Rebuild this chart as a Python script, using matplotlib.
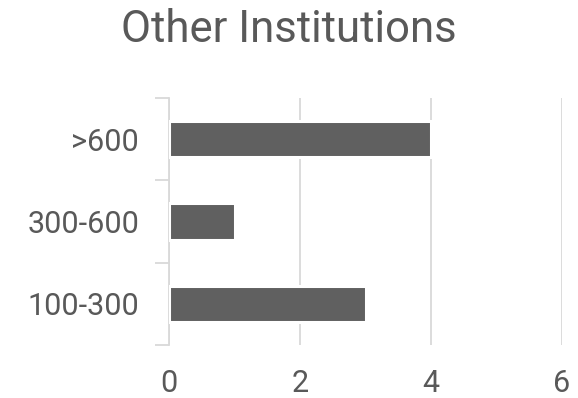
import numpy as np
import matplotlib.pyplot as plt
from matplotlib.ticker import FixedLocator

# Counts per size band
categories = ["100-300", "300-600", ">600"]
counts = [3, 1, 4]
x_ticks = [0, 2, 4, 6]

text_color = "#595959"
grid_color = "#d9d9d9"
bar_color = "#606060"

plt.rcParams['font.family'] = ['Roboto', 'DejaVu Sans']

fig = plt.figure(figsize=(5.78, 3.98), dpi=100)
ax = fig.add_axes([169 / 578, 1 - 345 / 398, (562 - 169) / 578, (345 - 98) / 398])

y = np.arange(len(categories))
ax.barh(y, counts, height=0.44, color=bar_color, edgecolor="white", linewidth=2.2, zorder=3)

ax.set_xlim(0, 6)
ax.set_ylim(-0.5, len(categories) - 0.5)
ax.set_xticks(x_ticks)
ax.set_yticks(y)
ax.set_yticklabels(categories)

# category boundary ticks on the left spine
ax.yaxis.set_minor_locator(FixedLocator(np.arange(-0.5, len(categories), 1.0)))
ax.tick_params(axis="y", which="major", length=0, pad=21.5, labelsize=22, labelcolor=text_color)
ax.tick_params(axis="y", which="minor", length=10, width=1.3, color=grid_color)
ax.tick_params(axis="x", length=0, pad=17, labelsize=22, labelcolor=text_color)

ax.grid(axis="x", color=grid_color, linewidth=1.3, zorder=0)
for s in ["top", "right", "bottom"]:
    ax.spines[s].set_visible(False)
ax.spines["left"].set_color(grid_color)
ax.spines["left"].set_linewidth(1.3)

fig.text(0.5, 1 - 30 / 398, "Other Institutions", ha="center", va="center",
         fontsize=31.5, color=text_color)

fig.savefig("out.png", dpi=100)
